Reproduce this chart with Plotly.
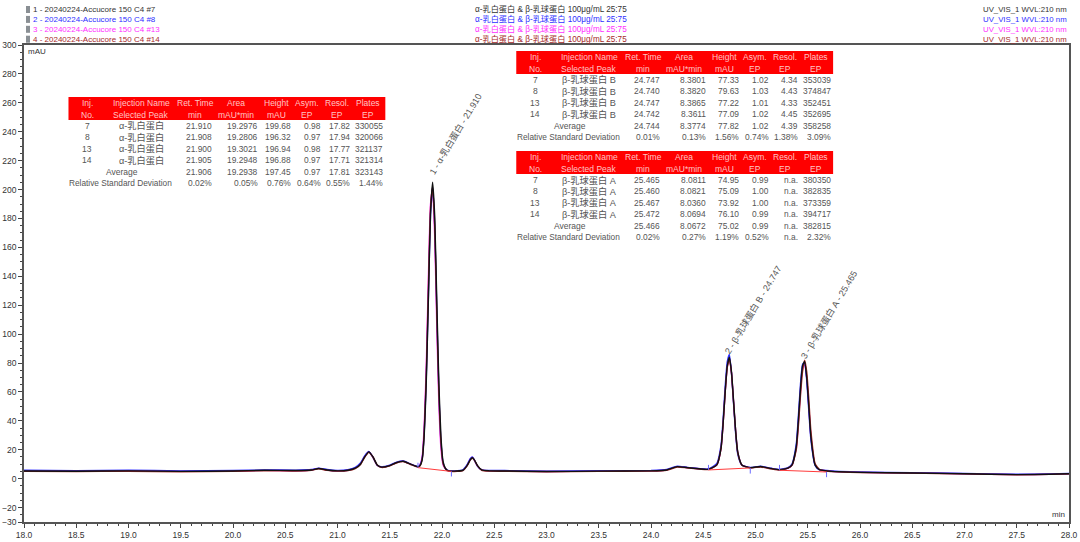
"""
Overlay of four UV chromatograms (α-lactalbumin and β-lactoglobulin) with peak tables
"""

import plotly.graph_objects as go

time_min = [
    18.0, 18.5, 19.0, 19.5, 20.0, 20.3, 20.6, 20.75, 20.82, 20.9,
    21.0, 21.1, 21.17, 21.22, 21.26, 21.3, 21.34, 21.38, 21.42, 21.5,
    21.56, 21.63, 21.7, 21.77, 21.79, 21.81, 21.83, 21.85, 21.87, 21.89,
    21.91, 21.93, 21.95, 21.97, 21.99, 22.01, 22.03, 22.05, 22.09, 22.2,
    22.24, 22.27, 22.29, 22.31, 22.34, 22.38, 22.45, 22.6, 23.0, 23.5,
    24.0, 24.15, 24.25, 24.35, 24.55, 24.63, 24.67, 24.69, 24.71, 24.73,
    24.75, 24.77, 24.79, 24.81, 24.83, 24.87, 24.95, 25.05, 25.15, 25.23,
    25.31, 25.35, 25.39, 25.41, 25.43, 25.45, 25.47, 25.49, 25.51, 25.53,
    25.57, 25.61, 25.68, 25.8, 26.0, 26.5, 27.0, 27.5, 28.0,
]
inj_7 = [
    5.3, 5.1, 5.4, 5.0, 5.3, 5.8, 5.6, 6.0, 7.0, 6.0,
    5.4, 5.8, 7.2, 10, 15, 18.5, 15, 9.5, 8.0, 9.0,
    11, 12, 10, 8.2, 9, 13, 30, 68, 125, 183,
    205, 182, 123, 66, 29, 12, 7.5, 5.8, 5.2, 5.8,
    9, 13, 14.5, 13, 9, 6, 5.4, 5.3, 4.9, 5.2,
    5.4, 6.0, 8.3, 7.6, 6.5, 9.5, 21, 38, 60, 78,
    84, 74, 54, 33, 18.5, 9.5, 7.6, 8.4, 7, 6.2,
    7.2, 9.5, 22, 40, 62, 78, 81, 70, 50, 29,
    9.5, 6.2, 5.4, 4.8, 4.3, 3.9, 3.4, 2.8, 3.4,
]
inj_8 = [
    5.8, 5.5, 5.8, 5.4, 5.6, 6.0, 5.9, 6.3, 7.3, 6.3,
    5.7, 6.2, 7.8, 10.8, 15.8, 18.8, 14.6, 9.3, 8.2, 9.3,
    11.3, 12.2, 10.1, 8.4, 9.5, 14, 32, 71, 127, 182,
    202, 176, 117, 61, 26, 11, 7.3, 5.9, 5.4, 6.1,
    9.6, 13.8, 15, 12.8, 8.6, 6.1, 5.7, 5.6, 5.2, 5.5,
    5.7, 6.3, 8.6, 7.7, 6.7, 10.5, 23, 41, 64, 81,
    86, 73, 52, 31, 17, 9.2, 7.7, 8.6, 7.2, 6.4,
    7.6, 10.2, 24, 43, 65, 79, 80.5, 68, 47, 27,
    9.2, 6.2, 5.6, 5, 4.6, 4.1, 3.6, 3, 3.6,
]
inj_13 = [
    5.2, 5.0, 5.3, 5.0, 5.2, 5.7, 5.5, 6.0, 7.1, 5.9,
    5.3, 5.8, 7.4, 10.3, 15.4, 18.6, 14.8, 9.2, 8.0, 9.0,
    11, 12, 10, 8.2, 9.8, 15, 37, 80, 140, 190,
    200, 168, 106, 52, 21, 9.5, 7, 5.7, 5.2, 5.8,
    9.2, 13.4, 14.8, 12.8, 8.7, 6, 5.4, 5.3, 4.9, 5.2,
    5.4, 6, 8.3, 7.6, 6.5, 9.5, 21, 38, 60, 77.5,
    83, 73.5, 53.5, 33, 18.3, 9.4, 7.6, 8.3, 7, 6.2,
    7.1, 9.3, 21, 38, 60, 76, 79.5, 69.5, 50, 29.5,
    9.8, 6.3, 5.4, 4.8, 4.3, 3.9, 3.4, 2.8, 3.4,
]
inj_14 = [
    5.0, 4.9, 5.1, 4.8, 5.0, 5.5, 5.3, 5.8, 6.8, 5.7,
    5.2, 5.6, 7.0, 9.8, 14.8, 18.2, 14.8, 9.4, 7.8, 8.8,
    10.8, 11.8, 9.8, 8, 8.8, 13.5, 33, 74, 133, 187,
    202, 175, 114, 59, 25, 10.5, 7.2, 5.6, 5, 5.6,
    8.8, 12.8, 14.2, 12.8, 8.8, 5.8, 5.2, 5.1, 4.7, 5,
    5.2, 5.8, 8, 7.4, 6.3, 9.5, 21, 38, 60, 77,
    83, 73, 53, 32.5, 18, 9.3, 7.4, 8.1, 6.8, 6,
    7.2, 9.3, 20, 36, 57, 74, 82, 74, 55, 33,
    10.5, 6.5, 5.3, 4.7, 4.2, 3.8, 3.3, 2.7, 3.3,
]

# integration baselines and the peak delimiters
baseline_x = [21.77, 22.09, None, 24.55, 24.95, None, 25.23, 25.68]
baseline_y = [7.6, 5.0, None, 6.0, 7.4, None, 5.8, 4.6]
delim_x = [21.77, 21.77, None, 22.09, 22.09, None, 24.55, 24.55, None, 24.95, 24.95, None, 25.23, 25.23, None, 25.68, 25.68]
delim_y = [7.6, 11, None, 5, 1.5, None, 6, 9.5, None, 7.4, 3.5, None, 5.8, 9.5, None, 4.6, 1]

sample_names = ['1 - 20240224-Accucore 150 C4 #7', '2 - 20240224-Accucore 150 C4 #8',
                '3 - 20240224-Accucore 150 C4 #13', '4 - 20240224-Accucore 150 C4 #14']
sample_title = 'α-乳白蛋白 & β-乳球蛋白 100μg/mL 25:75'
channel = 'UV_VIS_1 WVL:210 nm'
sample_colors = ['#333333', '#2f2fff', '#ff2fff', '#a52a2a']

peak_labels = ['1 - α-乳白蛋白 - 21.910', '2 - β-乳球蛋白 B - 24.747', '3 - β-乳球蛋白 A - 25.465']
peak_label_x = [22.13, 24.975, 25.70]
peak_label_y = [238.6, 117.1, 113.7]

header_top = ['Inj.', 'Injection Name', 'Ret. Time', 'Area', 'Height', 'Asym.', 'Resol.', 'Plates']
header_bottom = ['No.', 'Selected Peak', 'min', 'mAU*min', 'mAU', 'EP', 'EP', 'EP']
inj_no = ['7', '8', '13', '14']

table_alpha = [
    ['α-乳白蛋白', '21.910', '19.2976', '199.68', '0.98', '17.82', '330055'],
    ['α-乳白蛋白', '21.908', '19.2806', '196.32', '0.97', '17.94', '320066'],
    ['α-乳白蛋白', '21.900', '19.3021', '196.94', '0.98', '17.77', '321137'],
    ['α-乳白蛋白', '21.905', '19.2948', '196.88', '0.97', '17.71', '321314'],
]
stats_alpha = [['21.906', '19.2938', '197.45', '0.97', '17.81', '323143'],
               ['0.02%', '0.05%', '0.76%', '0.64%', '0.55%', '1.44%']]
table_beta_b = [
    ['β-乳球蛋白 B', '24.747', '8.3801', '77.33', '1.02', '4.34', '353039'],
    ['β-乳球蛋白 B', '24.740', '8.3820', '79.63', '1.03', '4.43', '374847'],
    ['β-乳球蛋白 B', '24.747', '8.3865', '77.22', '1.01', '4.33', '352451'],
    ['β-乳球蛋白 B', '24.742', '8.3611', '77.09', '1.02', '4.45', '352695'],
]
stats_beta_b = [['24.744', '8.3774', '77.82', '1.02', '4.39', '358258'],
                ['0.01%', '0.13%', '1.56%', '0.74%', '1.38%', '3.09%']]
table_beta_a = [
    ['β-乳球蛋白 A', '25.465', '8.0811', '74.95', '0.99', 'n.a.', '380350'],
    ['β-乳球蛋白 A', '25.460', '8.0821', '75.09', '1.00', 'n.a.', '382835'],
    ['β-乳球蛋白 A', '25.467', '8.0360', '73.92', '1.00', 'n.a.', '373359'],
    ['β-乳球蛋白 A', '25.472', '8.0694', '76.10', '0.99', 'n.a.', '394717'],
]
stats_beta_a = [['25.466', '8.0672', '75.02', '0.99', 'n.a.', '382815'],
                ['0.02%', '0.27%', '1.19%', '0.52%', 'n.a.', '2.32%']]

WIDTH, HEIGHT = 1080, 542
PLOT_L, PLOT_R, PLOT_T, PLOT_B = 23.5, 1069, 45, 522
LATIN = 'Liberation Sans'
MIXED = 'Liberation Sans, Noto Sans CJK SC'
# column positions inside a table, px from its left edge
HEADER_CENTERS = [19, 73, 127, 168, 208, 239, 269, 300]
VALUE_RIGHTS = [146, 192, 225, 255, 284, 317]

fig = go.Figure()


def to_paper_x(px):
    return (px - PLOT_L) / (PLOT_R - PLOT_L)


def to_paper_y(py):
    return (PLOT_B - py) / (PLOT_B - PLOT_T)


def add_text(text, px, py, size=8.5, color='#555555', family=LATIN, xanchor='center'):
    fig.add_annotation(text=text, xref='paper', yref='paper', x=to_paper_x(px), y=to_paper_y(py),
                       xanchor=xanchor, yanchor='middle', showarrow=False,
                       font=dict(size=size, color=color, family=family))


def add_table(left, top, rows, stats):
    fig.add_shape(type='rect', xref='paper', yref='paper', layer='above', line_width=0, fillcolor='#ff0000',
                  x0=to_paper_x(left), x1=to_paper_x(left + 317), y0=to_paper_y(top), y1=to_paper_y(top + 23))
    for cx, a, b in zip(HEADER_CENTERS, header_top, header_bottom):
        add_text(a, left + cx, top + 6, color='#ffc4c4')
        add_text(b, left + cx, top + 17.5, color='#ffc4c4')
    for i, row in enumerate(rows):
        y = top + 29 + i * 11.4
        add_text(inj_no[i], left + 19, y)
        add_text(row[0], left + 73, y, size=9.2, family=MIXED)
        for rx, val in zip(VALUE_RIGHTS, row[1:]):
            add_text(val, left + rx, y, size=8.4, xanchor='right')
    add_text('Average', left + 54, top + 29 + 4 * 11.4)
    add_text('Relative Standard Deviation', left - 1, top + 29 + 5 * 11.4, size=8.3, xanchor='left')
    for j, line in enumerate(stats):
        for rx, val in zip(VALUE_RIGHTS, line):
            add_text(val, left + rx, top + 29 + (4 + j) * 11.4, size=8.4, xanchor='right')


# black goes last: it sits on top in the peaks, blue only shows along the edges
for y, color in [(inj_13, sample_colors[2]), (inj_8, sample_colors[1]),
                 (inj_14, sample_colors[3]), (inj_7, '#111111')]:
    fig.add_trace(go.Scatter(x=time_min, y=y, mode='lines', hoverinfo='skip',
                             line=dict(color=color, width=1.4, shape='spline', smoothing=0.5)))
fig.add_trace(go.Scatter(x=baseline_x, y=baseline_y, mode='lines', line=dict(color='#ff3b3b', width=1)))
fig.add_trace(go.Scatter(x=delim_x, y=delim_y, mode='lines', line=dict(color='#6a6aff', width=1)))

for text, x, y in zip(peak_labels, peak_label_x, peak_label_y):
    fig.add_annotation(text=text, x=x, y=y, xanchor='center', yanchor='middle', showarrow=False, textangle=-59,
                       font=dict(size=9, color='#555555', family=MIXED))

# header block over the plot
for i in range(4):
    y = 9.5 + i * 9.9
    fig.add_shape(type='rect', xref='paper', yref='paper', line_width=0, fillcolor='#8a8f94',
                  x0=to_paper_x(25.5), x1=to_paper_x(29.5), y0=to_paper_y(y - 3.5), y1=to_paper_y(y + 3.5))
    add_text(sample_names[i], 31, y, size=8, color=sample_colors[i], xanchor='left')
    add_text(sample_title, 473, y, size=8.2, color=sample_colors[i], family=MIXED, xanchor='left')
    add_text(channel, 1069, y, size=7.8, color=sample_colors[i], xanchor='right')

add_text('mAU', 26, 51.5, size=8, color='#333333', xanchor='left')
add_text('min', 1067, 514.5, size=8, color='#333333', xanchor='right')

add_table(68, 97, table_alpha, stats_alpha)
add_table(516, 51, table_beta_b, stats_beta_b)
add_table(516, 151, table_beta_a, stats_beta_a)

fig.update_layout(
    width=WIDTH, height=HEIGHT, showlegend=False, plot_bgcolor='white', paper_bgcolor='white',
    margin=dict(l=PLOT_L, r=WIDTH - PLOT_R, t=PLOT_T, b=HEIGHT - PLOT_B, pad=0),
)
fig.update_xaxes(range=[18, 28], tickmode='array', tickvals=[18 + i * 0.5 for i in range(21)],
                 ticktext=['%.1f' % (18 + i * 0.5) for i in range(21)], ticks='outside', ticklen=4, tickcolor='#444444',
                 showgrid=False, zeroline=False, showline=True, linecolor='#555555', linewidth=1.5, mirror=True,
                 automargin=False, tickfont=dict(size=8.5, color='#333333', family=LATIN),
                 minor=dict(dtick=0.1, ticks='outside', ticklen=2, tickcolor='#444444', showgrid=False))
fig.update_yaxes(range=[-30, 300], tickmode='array', tickvals=list(range(300, -21, -20)) + [-30],
                 ticks='outside', ticklen=4, tickcolor='#444444',
                 showgrid=False, zeroline=False, showline=True, linecolor='#555555', linewidth=1.5, mirror=True,
                 automargin=False, tickfont=dict(size=8.5, color='#333333', family=LATIN),
                 minor=dict(dtick=5, ticks='outside', ticklen=2, tickcolor='#444444', showgrid=False))

fig.write_html("out.html", config={'displayModeBar': False}, post_script="document.body.style.margin='0';")
